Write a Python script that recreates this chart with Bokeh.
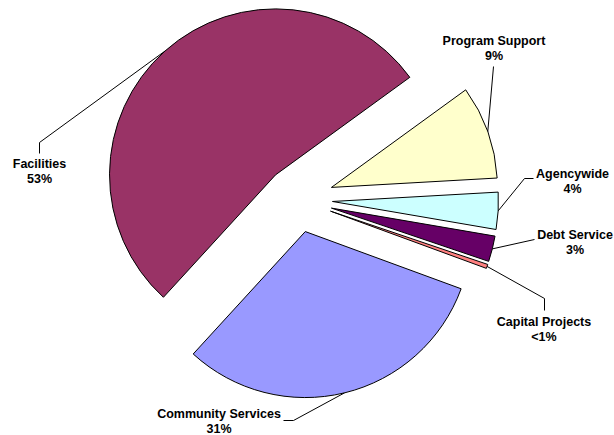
import math
from bokeh.plotting import figure
from bokeh.models import Range1d, ColumnDataSource
from bokeh.core.properties import value
from bokeh.embed import file_html
from bokeh.resources import INLINE

# ---- data ----
categories = ["Program Support", "Agencywide", "Debt Service",
              "Capital Projects", "Community Services", "Facilities"]
shares = [9.1, 3.6, 2.5, 0.4, 31.2, 53.2]
pct_labels = ["9%", "4%", "3%", "<1%", "31%", "53%"]
colors = ["#FFFFCC", "#CCFFFF", "#660066", "#FF8080", "#9999FF", "#993366"]

# ---- layout (reference pixel coordinates, y down) ----
W, H = 614, 435
def to_data(px, py):
    return px, H - py

center_px = (297, 199)
radius = 166
first_edge_deg = 36.0
explode = [36, 35, 35, 35, 33, 33]
label_px = [(493.5, 40), (572, 173), (574.5, 234), (543.5, 321), (218.5, 413), (39, 163)]
leader_bends_px = [[(493, 66)],
                   [(524, 178), (533, 178)],
                   [(534, 239)],
                   [(544, 298), (544, 310)],
                   [(293, 420), (283, 420)],
                   [(39, 142), (39, 153)]]
line_gap = 15.5

cx, cy = to_data(*center_px)
total = sum(shares)
starts, ends, xs_c, ys_c, lead_xs, lead_ys = [], [], [], [], [], []
edge = math.radians(first_edge_deg)
for i, s in enumerate(shares):
    span = 2 * math.pi * s / total
    end = edge
    start = edge - span
    mid = (start + end) / 2
    wx = cx + explode[i] * math.cos(mid)
    wy = cy + explode[i] * math.sin(mid)
    starts.append(start)
    ends.append(end)
    xs_c.append(wx)
    ys_c.append(wy)
    px0 = wx + radius * math.cos(mid)
    py0 = wy + radius * math.sin(mid)
    lx, ly = [px0], [py0]
    for (bx, by) in leader_bends_px[i]:
        dx, dy = to_data(bx, by)
        lx.append(dx)
        ly.append(dy)
    lead_xs.append(lx)
    lead_ys.append(ly)
    edge = start

src = ColumnDataSource(dict(x=xs_c, y=ys_c, start=starts, end=ends, color=colors))

p = figure(width=W, height=H, x_range=Range1d(0, W), y_range=Range1d(0, H),
           output_backend="svg", toolbar_location=None, min_border=0)
p.axis.visible = False
p.grid.visible = False
p.outline_line_color = None
p.background_fill_color = "white"

p.wedge(x="x", y="y", radius=radius, start_angle="start", end_angle="end",
        fill_color="color", line_color="black", line_width=1, source=src)

p.multi_line(xs=lead_xs, ys=lead_ys, line_color="black", line_width=1)

lab_x = [to_data(*lp)[0] for lp in label_px]
lab_y1 = [to_data(*lp)[1] for lp in label_px]
lab_y2 = [y - line_gap for y in lab_y1]
p.text(x=lab_x, y=lab_y1, text=categories, text_align="center", text_baseline="middle",
       text_font=value("Liberation Sans"), text_font_style="bold", text_font_size="12.5px",
       text_color="black")
p.text(x=lab_x, y=lab_y2, text=pct_labels, text_align="center", text_baseline="middle",
       text_font=value("Liberation Sans"), text_font_style="bold", text_font_size="12.5px",
       text_color="black")

open("out.html", "w").write(file_html(p, INLINE))
